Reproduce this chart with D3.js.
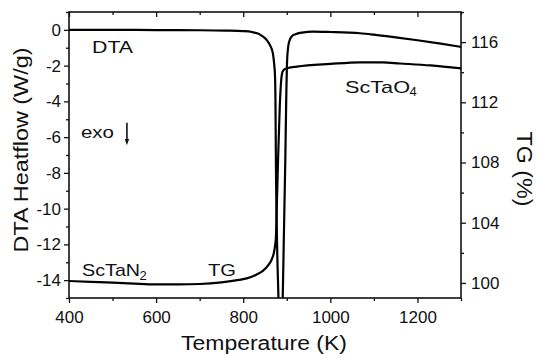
<!DOCTYPE html>
<html><head><meta charset="utf-8">
<script src="https://cdn.jsdelivr.net/npm/d3@7"></script>
<style>
html,body{margin:0;padding:0;background:#fff;}
svg{display:block;font-family:"Liberation Sans",Arial,Helvetica,sans-serif;}
</style></head><body>
<svg id="c" width="537" height="354"></svg>
<script>
// ---- data ----
const dtaTemp = [400,500,600,700,760,800,820,843,855,862,868,871,873,874,875,881,887,890.6,896.6,899,900.5,903,906,912,920,935,960,1000,1068,1100,1150,1200,1250,1300];
const dtaVal  = [0,0,-0.01,-0.02,-0.04,-0.07,-0.12,-0.33,-0.6,-0.88,-1.3,-1.9,-2.6,-3.9,-7.3,-15.1,-19,-15.1,-7.3,-3.5,-1.85,-1.0,-0.62,-0.35,-0.24,-0.15,-0.1,-0.12,-0.19,-0.27,-0.42,-0.58,-0.76,-0.95];
const tgTemp = [400,450,500,550,600,650,700,750,790,808,830,845,858,866,871,875,877,880,884,887,890,895,903,923,1000,1068,1120,1160,1230,1300];
const tgVal  = [100.13,100.07,100.02,99.95,99.9,99.9,99.93,100.04,100.2,100.3,100.55,100.8,101.2,101.6,102.1,103.0,105.0,108.2,111.8,113.4,114.0,114.2,114.28,114.37,114.55,114.66,114.65,114.58,114.45,114.25];
const xTicks = [400,600,800,1000,1200];
const xMinor = [500,700,900,1100,1300];
const leftTicks = [0,-2,-4,-6,-8,-10,-12,-14];
const leftMinor = [1,-1,-3,-5,-7,-9,-11,-13,-15];
const rightTicks = [100,104,108,112,116];
const rightMinor = [102,106,110,114,118];

// ---- layout ----
const m = {left:69, right:461, top:12, bottom:298};
const svg = d3.select("#c");
const x  = d3.scaleLinear().domain([400,1300]).range([m.left,m.right]);
const yL = d3.scaleLinear().domain([-15,1]).range([m.bottom,m.top]);
const yR = d3.scaleLinear().domain([99,118]).range([m.bottom,m.top]);
const fmt = d => String(d);

function styleAxis(g){
  g.select(".domain").remove();
  g.selectAll(".tick line").attr("stroke","#111").attr("stroke-width",1.3);
  g.selectAll(".tick text").attr("fill","#111").style("font-size","17px")
   .style("font-family",'"Liberation Sans",Arial,sans-serif');
}
// bottom
svg.append("g").attr("transform",`translate(0,${m.bottom})`)
  .call(d3.axisBottom(x).tickValues(xTicks).tickFormat(fmt).tickSize(5).tickPadding(8)).call(styleAxis);
svg.append("g").attr("transform",`translate(0,${m.bottom})`)
  .call(d3.axisBottom(x).tickValues(xMinor).tickFormat("").tickSize(3)).call(styleAxis);
// top mirrored (inward)
svg.append("g").attr("transform",`translate(0,${m.top})`)
  .call(d3.axisTop(x).tickValues(xTicks).tickFormat("").tickSize(-5)).call(styleAxis);
svg.append("g").attr("transform",`translate(0,${m.top})`)
  .call(d3.axisTop(x).tickValues(xMinor).tickFormat("").tickSize(-3)).call(styleAxis);
// left
svg.append("g").attr("transform",`translate(${m.left},0)`)
  .call(d3.axisLeft(yL).tickValues(leftTicks).tickFormat(fmt).tickSize(5).tickPadding(3)).call(styleAxis);
svg.append("g").attr("transform",`translate(${m.left},0)`)
  .call(d3.axisLeft(yL).tickValues(leftMinor).tickFormat("").tickSize(3)).call(styleAxis);
// right
svg.append("g").attr("transform",`translate(${m.right},0)`)
  .call(d3.axisRight(yR).tickValues(rightTicks).tickFormat(fmt).tickSize(5).tickPadding(5)).call(styleAxis);
svg.append("g").attr("transform",`translate(${m.right},0)`)
  .call(d3.axisRight(yR).tickValues(rightMinor).tickFormat("").tickSize(3)).call(styleAxis);

// frame
svg.append("rect").attr("x",m.left).attr("y",m.top)
  .attr("width",m.right-m.left).attr("height",m.bottom-m.top)
  .attr("fill","none").attr("stroke","#111").attr("stroke-width",1.6);

// clip
svg.append("clipPath").attr("id","clip").append("rect")
  .attr("x",m.left).attr("y",m.top).attr("width",m.right-m.left).attr("height",m.bottom-m.top);

const dta = dtaTemp.map((t,i)=>[t,dtaVal[i]]);
const tg  = tgTemp.map((t,i)=>[t,tgVal[i]]);
const plot = svg.append("g").attr("clip-path","url(#clip)");
plot.append("path").datum(dta)
  .attr("d", d3.line().x(d=>x(d[0])).y(d=>yL(d[1])).curve(d3.curveMonotoneX))
  .attr("fill","none").attr("stroke","#000").attr("stroke-width",2.2);
plot.append("path").datum(tg)
  .attr("d", d3.line().x(d=>x(d[0])).y(d=>yR(d[1])).curve(d3.curveMonotoneX))
  .attr("fill","none").attr("stroke","#000").attr("stroke-width",2.2);

// axis titles
svg.append("text").attr("x",264).attr("y",350).attr("text-anchor","middle")
  .style("font-size","19.5px").attr("textLength",166).attr("lengthAdjust","spacingAndGlyphs")
  .attr("fill","#111").text("Temperature (K)");
svg.append("text").attr("transform","translate(27.5,150) rotate(-90)").attr("text-anchor","middle")
  .style("font-size","20px").attr("textLength",205).attr("lengthAdjust","spacingAndGlyphs")
  .attr("fill","#111").text("DTA Heatflow (W/g)");
svg.append("text").attr("transform","translate(517,169) rotate(90)").attr("text-anchor","middle")
  .style("font-size","22px").attr("textLength",75).attr("lengthAdjust","spacingAndGlyphs")
  .attr("fill","#111").text("TG (%)");

// annotations
function ann(px, py, txt, len, size){
  const e = svg.append("text").attr("x",px).attr("y",py).style("font-size",size+"px")
    .attr("fill","#111").text(txt);
  if(len) e.attr("textLength",len).attr("lengthAdjust","spacingAndGlyphs");
  return e;
}
ann(x(453), yL(-1.29), "DTA", 41, 17);
ann(x(427.5), yL(-6.05), "exo", 33, 17);
ann(x(430), yL(-13.77), "ScTaN", 58, 17);
ann(x(430)+57.5, yL(-13.77)+4, "2", null, 13);
ann(x(719), yL(-13.77), "TG", 28, 17);
ann(x(1033.7), yL(-3.53), "ScTaO", 65, 17);
ann(x(1033.7)+64.5, yL(-3.53)+3.5, "4", null, 13);

// exo arrow
const ax = x(533);
svg.append("line").attr("x1",ax).attr("x2",ax).attr("y1",yL(-5.2)).attr("y2",yL(-6.2))
  .attr("stroke","#111").attr("stroke-width",1.6);
svg.append("path")
  .attr("d",`M${ax-2.2},${yL(-6.1)} L${ax+2.2},${yL(-6.1)} L${ax},${yL(-6.45)} Z`)
  .attr("fill","#111");
</script>
</body></html>
